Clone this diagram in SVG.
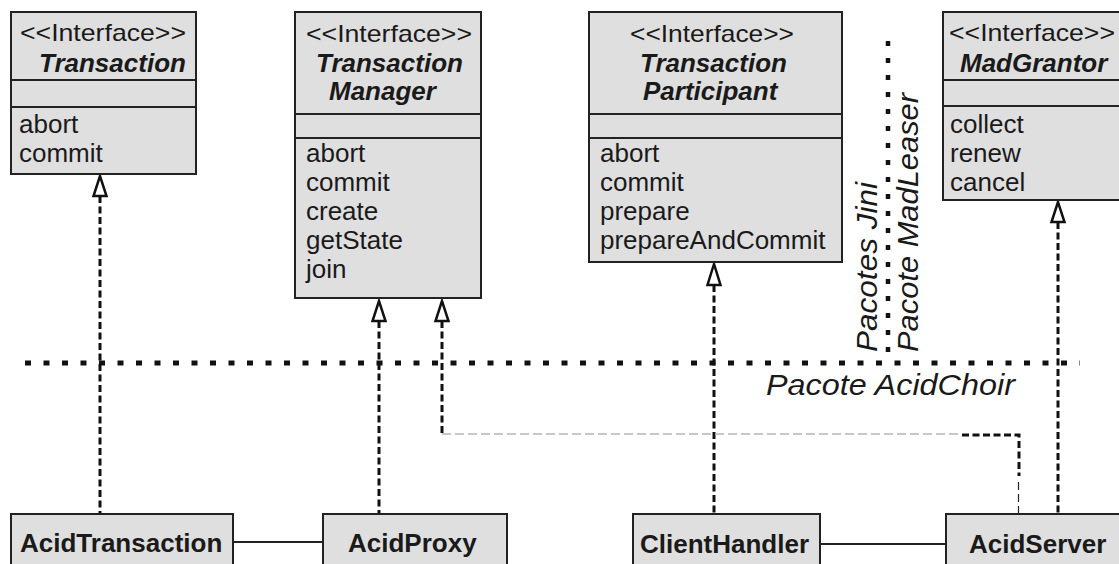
<svg xmlns="http://www.w3.org/2000/svg" width="1119" height="564" viewBox="0 0 1119 564">
  <style>
    .box { fill: #dfdfdf; stroke: #222; stroke-width: 2; }
    .sep { stroke: #222; stroke-width: 2; }
    .txt { font-family: "Liberation Sans", Arial, sans-serif; fill: #1a1a1a; }
    .stereo { font-size: 24px; }
    .iname { font-size: 26px; font-weight: bold; font-style: italic; }
    .op { font-size: 26px; }
    .cname { font-size: 26px; font-weight: bold; }
    .pkg { font-size: 29px; font-style: italic; }
    .dep { fill: none; stroke: #111; stroke-width: 3; stroke-dasharray: 7 3.5; }
    .thin { fill: none; stroke: #222; stroke-width: 1.2; stroke-dasharray: 8 4; }
    .grey { fill: none; stroke: #b5b5b5; stroke-width: 1.3; stroke-dasharray: 9 4; }
    .assoc { fill: none; stroke: #222; stroke-width: 2; }
    .tri { fill: #fff; stroke: #111; stroke-width: 2.5; stroke-linejoin: miter; }
    .bound-h { fill: none; stroke: #111; stroke-width: 5; stroke-dasharray: 6 12.5; }
    .bound-v { fill: none; stroke: #111; stroke-width: 4.5; stroke-dasharray: 5 12; }
  </style>

  <!-- package boundaries -->
  <g id="packages">
    <line class="bound-h" x1="25" y1="363" x2="1080" y2="363"/>
    <line class="bound-v" x1="888" y1="41" x2="888" y2="363"/>
    <text class="txt pkg" transform="translate(877,352) rotate(-90)" textLength="170" lengthAdjust="spacingAndGlyphs">Pacotes Jini</text>
    <text class="txt pkg" transform="translate(918,352) rotate(-90)" textLength="259" lengthAdjust="spacingAndGlyphs">Pacote MadLeaser</text>
    <text class="txt pkg" x="766" y="395" textLength="249" lengthAdjust="spacingAndGlyphs">Pacote AcidChoir</text>
  </g>

  <!-- realizations and associations -->
  <g id="connectors">
    <line class="dep" x1="100" y1="196" x2="100" y2="514"/>
    <line class="dep" x1="379" y1="321" x2="379" y2="514"/>
    <line class="dep" x1="714" y1="285" x2="714" y2="514"/>
    <line class="dep" x1="1058" y1="222" x2="1058" y2="514"/>
    <!-- AcidServer to TransactionManager -->
    <line class="dep" x1="442" y1="321" x2="442" y2="434"/>
    <line class="grey" x1="442" y1="434" x2="962" y2="434"/>
    <polyline class="dep" points="962,435 1019,435 1019,476"/>
    <line class="thin" x1="1018.5" y1="482" x2="1018.5" y2="514"/>
    <!-- associations -->
    <line class="assoc" x1="233" y1="542" x2="323" y2="542"/>
    <line class="assoc" x1="820" y1="544" x2="946" y2="544"/>
    <!-- hollow triangle heads -->
    <polygon class="tri" points="100,176 93.5,196 106.5,196"/>
    <polygon class="tri" points="379,301 372.5,321 385.5,321"/>
    <polygon class="tri" points="442,301 435.5,321 448.5,321"/>
    <polygon class="tri" points="714,264 707.5,285 720.5,285"/>
    <polygon class="tri" points="1058,202 1051.5,222 1064.5,222"/>
  </g>

  <g id="Transaction">
    <rect class="box" x="11" y="12" width="185" height="162"/>
    <line class="sep" x1="11" y1="80" x2="196" y2="80"/>
    <line class="sep" x1="11" y1="107" x2="196" y2="107"/>
    <text class="txt stereo" x="20" y="41" textLength="166" lengthAdjust="spacingAndGlyphs">&lt;&lt;Interface&gt;&gt;</text>
    <text class="txt iname" x="39" y="72">Transaction</text>
    <text class="txt op" x="19" y="133">abort</text>
    <text class="txt op" x="19" y="162">commit</text>
  </g>

  <g id="TransactionManager">
    <rect class="box" x="295" y="12" width="186" height="286"/>
    <line class="sep" x1="295" y1="114" x2="481" y2="114"/>
    <line class="sep" x1="295" y1="138" x2="481" y2="138"/>
    <text class="txt stereo" x="306" y="42" textLength="166" lengthAdjust="spacingAndGlyphs">&lt;&lt;Interface&gt;&gt;</text>
    <text class="txt iname" x="316" y="72">Transaction</text>
    <text class="txt iname" x="329" y="100">Manager</text>
    <text class="txt op" x="306" y="162">abort</text>
    <text class="txt op" x="306" y="191">commit</text>
    <text class="txt op" x="306" y="220">create</text>
    <text class="txt op" x="306" y="249">getState</text>
    <text class="txt op" x="306" y="278">join</text>
  </g>

  <g id="TransactionParticipant">
    <rect class="box" x="589" y="12" width="253" height="250"/>
    <line class="sep" x1="589" y1="114" x2="842" y2="114"/>
    <line class="sep" x1="589" y1="138" x2="842" y2="138"/>
    <text class="txt stereo" x="630" y="42" textLength="164" lengthAdjust="spacingAndGlyphs">&lt;&lt;Interface&gt;&gt;</text>
    <text class="txt iname" x="640" y="72">Transaction</text>
    <text class="txt iname" x="643" y="100">Participant</text>
    <text class="txt op" x="600" y="162">abort</text>
    <text class="txt op" x="600" y="191">commit</text>
    <text class="txt op" x="600" y="220">prepare</text>
    <text class="txt op" x="600" y="249">prepareAndCommit</text>
  </g>

  <g id="MadGrantor">
    <rect class="box" x="943" y="12" width="180" height="188"/>
    <line class="sep" x1="943" y1="80" x2="1123" y2="80"/>
    <line class="sep" x1="943" y1="106" x2="1123" y2="106"/>
    <text class="txt stereo" x="949" y="41" textLength="166" lengthAdjust="spacingAndGlyphs">&lt;&lt;Interface&gt;&gt;</text>
    <text class="txt iname" x="960" y="72">MadGrantor</text>
    <text class="txt op" x="950" y="133">collect</text>
    <text class="txt op" x="950" y="162">renew</text>
    <text class="txt op" x="950" y="191">cancel</text>
  </g>

  <g id="AcidTransaction">
    <rect class="box" x="11" y="514" width="222" height="60"/>
    <text class="txt cname" x="20" y="552">AcidTransaction</text>
  </g>

  <g id="AcidProxy">
    <rect class="box" x="323" y="514" width="184" height="60"/>
    <text class="txt cname" x="348" y="552">AcidProxy</text>
  </g>

  <g id="ClientHandler">
    <rect class="box" x="633" y="514" width="187" height="60"/>
    <text class="txt cname" x="640" y="553">ClientHandler</text>
  </g>

  <g id="AcidServer">
    <rect class="box" x="946" y="514" width="190" height="60"/>
    <text class="txt cname" x="969" y="553">AcidServer</text>
  </g>
</svg>
